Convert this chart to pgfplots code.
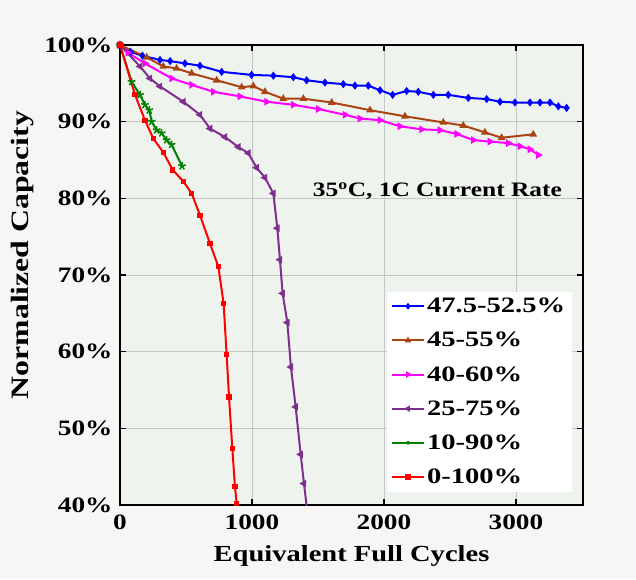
\documentclass[border=0pt]{standalone}
\usepackage{fontspec}
\setmainfont{Liberation Serif}
\newfontfamily\wide{Liberation Serif}[FakeStretch=1.24]
\newfontfamily\wider{Liberation Serif}[FakeStretch=1.27]
\newfontfamily\legf{Liberation Serif}[FakeStretch=1.3]
\usepackage{pgfplots}
\pgfplotsset{compat=1.18}
\definecolor{pagebg}{RGB}{248,245,245}
\definecolor{plotbg}{RGB}{238,243,237}
\definecolor{gridc}{RGB}{196,200,196}
\definecolor{cbrown}{RGB}{170,68,20}
\definecolor{cpurple}{RGB}{126,47,142}
\definecolor{cgreen}{RGB}{0,128,0}
\definecolor{cmag}{RGB}{255,0,255}
\definecolor{cblue}{RGB}{0,0,255}
\definecolor{cred}{RGB}{255,0,0}
\begin{document}
\begin{tikzpicture}[x=1pt,y=1pt]
\path[use as bounding box, fill=pagebg] (-120,-74) rectangle (516,505);
\begin{axis}[
  at={(0,0)}, anchor=south west,
  scale only axis, width=463pt, height=460pt,
  xmin=0, xmax=3508, ymin=40, ymax=100,
  xtick={0,1000,2000,3000}, ytick={40,50,60,70,80,90,100},
  axis background/.style={fill=plotbg},
  grid=major, major grid style={gridc, line width=0.9pt},
  axis line style={black, line width=1.8pt},
  tick style={black, line width=1.4pt, major tick length=6pt},
  tick align=inside,
  /pgf/number format/assume math mode=true,
  /pgf/number format/1000 sep={},
  ticklabel style={font=\wide\fontsize{22}{24}\selectfont\bfseries},
  xticklabel style={yshift=-6pt},
  yticklabel style={xshift=-4pt},
  yticklabel={\pgfmathprintnumber{\tick}\%},
  xlabel={Equivalent Full Cycles},
  ylabel={Normalized Capacity},
  xlabel style={font=\wide\fontsize{23}{26}\selectfont\bfseries, yshift=-9pt},
  ylabel style={font=\wider\fontsize{25}{28}\selectfont\bfseries, yshift=4pt, xshift=20pt},
  legend style={at={(0.975,0.03)}, anchor=south east, fill=white, draw=white,
    font=\legf\fontsize{22}{24}\selectfont\bfseries, row sep=14pt,
    inner sep=4pt},
  legend cell align=left,
  legend image code/.code={\draw[mark repeat=2,mark phase=2,line width=2pt] plot coordinates {(0pt,0pt) (16pt,0pt) (32pt,0pt)};},
  legend image post style={mark size=1.8pt},
  clip=true,
]
\addplot[cblue, line width=2pt, mark=diamond*, mark size=2.5pt] coordinates {
(0,100) (80,99.1) (170,98.6) (303,98.05) (380,97.9) (492,97.6) (606,97.3) (770,96.5) (997,96.1) (1162,96.0) (1313,95.8) (1414,95.4) (1553,95.1) (1692,94.9) (1780,94.7) (1881,94.7) (1970,94.1) (2066,93.5) (2172,94.0) (2260,93.9) (2374,93.5) (2487,93.5) (2639,93.1) (2778,92.95) (2879,92.6) (2992,92.5) (3106,92.5) (3182,92.5) (3258,92.5) (3321,92.0) (3384,91.8)};
\addlegendentry{47.5-52.5\%}
\addplot[cbrown, line width=2pt, mark=triangle*, mark size=2.5pt] coordinates {
(0,100) (202,98.4) (328,97.2) (429,96.95) (543,96.3) (732,95.4) (922,94.5) (1010,94.65) (1098,93.9) (1237,93.0) (1389,93.0) (1604,92.5) (1894,91.5) (2159,90.7) (2449,89.9) (2601,89.5) (2765,88.6) (2891,87.9) (3131,88.35)};
\addlegendentry{45-55\%}
\addplot[cmag, line width=2pt, mark=triangle*, mark size=2.5pt, mark options={rotate=-90}] coordinates {
(0,100) (60,99.0) (189,97.6) (391,95.65) (543,94.8) (707,93.9) (909,93.3) (1111,92.6) (1313,92.2) (1502,91.65) (1705,90.9) (1818,90.4) (1970,90.2) (2121,89.4) (2285,89.0) (2424,88.9) (2551,88.4) (2677,87.6) (2803,87.4) (2942,87.2) (3030,86.8) (3106,86.4) (3170,85.65)};
\addlegendentry{40-60\%}
\addplot[cpurple, line width=2pt, mark=triangle*, mark size=2.5pt, mark options={rotate=90}] coordinates {
(0,100) (152,97.2) (227,95.65) (303,94.6) (480,92.6) (606,90.9) (682,89.1) (795,88.0) (896,86.7) (972,85.9) (1035,84.0) (1098,82.7) (1162,80.65) (1192,76.1) (1212,72.0) (1232,67.6) (1268,63.8) (1295,58.0) (1331,52.8) (1369,46.6) (1394,42.8) (1420,39.0)};
\addlegendentry{25-75\%}
\addplot[cgreen, line width=2pt, mark=star, mark size=4pt, mark options={line width=1.5pt}] coordinates {
(0,100) (88,95.2) (152,93.5) (189,92.2) (222,91.5) (240,90.0) (278,88.9) (316,88.5) (353,87.6) (391,87.0) (470,84.2)};
\addlegendentry{10-90\%}
\addplot[cred, line width=2pt, mark=square*, mark size=1.6pt] coordinates {
(0,100) (114,93.5) (189,90.2) (252,87.8) (328,86.0) (400,83.7) (480,82.2) (543,80.65) (606,77.8) (682,74.1) (745,71.1) (785,66.3) (808,59.6) (826,54.1) (851,47.4) (871,42.4) (884,40.2) (892,39.0)};
\addlegendentry{0-100\%}
\node[font=\wide\fontsize{20.5}{24}\selectfont\bfseries] at (axis cs:2405,80.9) {35\textsuperscript{o}C, 1C Current Rate};
\end{axis}
\end{tikzpicture}
\end{document}
